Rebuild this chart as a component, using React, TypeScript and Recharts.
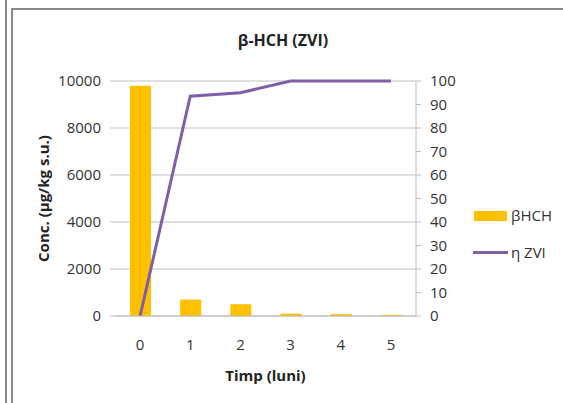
import { Bar, CartesianGrid, ComposedChart, Line, XAxis, YAxis } from "recharts";

const months = ["0", "1", "2", "3", "4", "5"];
const betaHch = [9800, 700, 500, 100, 80, 50];
const etaZvi = [0, 93.5, 95, 100, 100, 100];
const concTicks = [0, 2000, 4000, 6000, 8000, 10000];
const pctTicks = [0, 10, 20, 30, 40, 50, 60, 70, 80, 90, 100];

const FONT = "'Open Sans', 'Noto Sans', sans-serif";
const BAR_COLOR = "#FFC000";
const LINE_COLOR = "#7F5FA8";
const AXIS_GRAY = "#BFBFBF";

const data = months.map((m, i) => ({ month: m, beta: betaHch[i], eta: etaZvi[i] }));

export default function App() {
  return (
    <div style={{ position: "absolute", left: 0, top: 0, width: 563, height: 403, background: "#fff", fontFamily: FONT }}>
      {/* frame lines */}
      <div style={{ position: "absolute", left: 5, top: 0, width: 2, height: 403, background: "#8a8a8a" }} />
      <div style={{ position: "absolute", left: 11, top: 8, width: 2, height: 395, background: "#8a8a8a" }} />
      <div style={{ position: "absolute", left: 11, top: 8, width: 552, height: 2, background: "#8a8a8a" }} />

      <div
        style={{
          position: "absolute",
          left: 0,
          width: 566,
          top: 29,
          textAlign: "center",
          fontSize: 16,
          fontWeight: 700,
          color: "#222",
        }}
      >
        β-HCH (ZVI)
      </div>

      <ComposedChart
        width={563}
        height={403}
        data={data}
        margin={{ top: 81, right: 60, bottom: 10, left: 39 }}
        style={{ position: "absolute", left: 0, top: 0 }}
      >
        <CartesianGrid yAxisId="left" stroke={AXIS_GRAY} vertical={false} />
        <XAxis
          dataKey="month"
          height={77}
          axisLine={{ stroke: AXIS_GRAY }}
          tickLine={false}
          tickMargin={17}
          tick={{ fill: "#333", fontSize: 15, fontFamily: FONT }}
          label={{
            value: "Timp (luni)",
            position: "insideBottom",
            offset: 12,
            style: { fill: "#222", fontSize: 15, fontWeight: 700, fontFamily: FONT },
          }}
        />
        <YAxis
          yAxisId="left"
          width={76}
          domain={[0, 10000]}
          ticks={concTicks}
          axisLine={false}
          tickLine={{ stroke: AXIS_GRAY }}
          tickSize={5}
          tickMargin={9}
          tick={{ fill: "#333", fontSize: 15, fontFamily: FONT }}
          label={{
            value: "Conc. (µg/kg s.u.)",
            angle: -90,
            position: "insideLeft",
            offset: 5,
            style: { textAnchor: "middle", fill: "#222", fontSize: 15, fontWeight: 700, fontFamily: FONT },
          }}
        />
        <YAxis
          yAxisId="right"
          orientation="right"
          width={87}
          domain={[0, 100]}
          ticks={pctTicks}
          axisLine={{ stroke: AXIS_GRAY }}
          tickLine={{ stroke: AXIS_GRAY }}
          tickSize={5}
          tickMargin={9}
          tick={{ fill: "#333", fontSize: 15, fontFamily: FONT, textAnchor: "start" }}
        />
        <Bar yAxisId="left" dataKey="beta" fill={BAR_COLOR} barSize={21} isAnimationActive={false} />
        <Line
          yAxisId="right"
          type="linear"
          dataKey="eta"
          stroke={LINE_COLOR}
          strokeWidth={3}
          dot={false}
          activeDot={false}
          isAnimationActive={false}
        />
      </ComposedChart>

      {/* legend */}
      <div style={{ position: "absolute", left: 474, top: 211, width: 33, height: 10, background: BAR_COLOR }} />
      <div style={{ position: "absolute", left: 511, top: 205, fontSize: 15, color: "#333", lineHeight: "20px" }}>βHCH</div>
      <div style={{ position: "absolute", left: 473, top: 251, width: 35, height: 3, background: LINE_COLOR }} />
      <div style={{ position: "absolute", left: 511, top: 242, fontSize: 15, color: "#333", lineHeight: "20px" }}>η ZVI</div>
    </div>
  );
}
